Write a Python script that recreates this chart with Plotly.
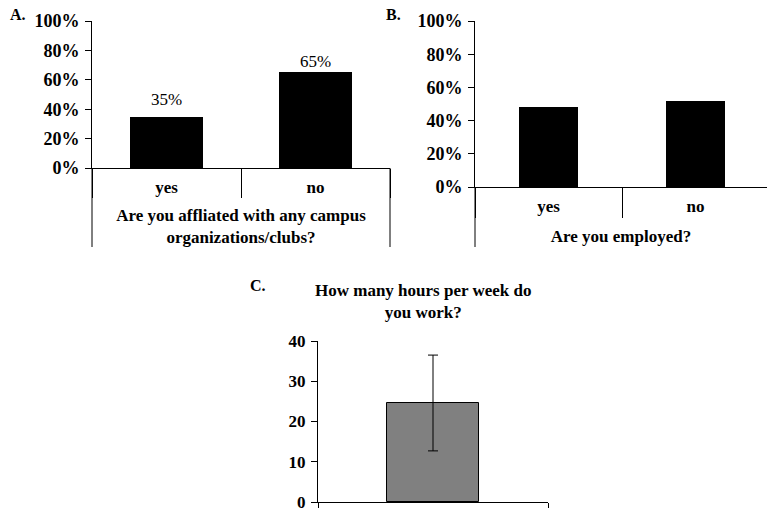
import plotly.graph_objects as go

# --- data -------------------------------------------------------------
answer_categories = ["yes", "no"]
clubs_pct = [35, 65]            # A. affiliated with campus organizations/clubs
clubs_label_shift = [17, 11]    # gap (px) between each bar top and its value label
employed_pct = [48, 52]         # B. employed
hours_category = ["hours"]
hours_mean = [24.6]             # C. hours worked per week
hours_sd = [11.9]

pct_ticks = [0, 20, 40, 60, 80, 100]
pct_ticktext = ["0%", "20%", "40%", "60%", "80%", "100%"]
hour_ticks = [0, 10, 20, 30, 40]

W, H = 767, 508
FONT = "Liberation Serif, Times New Roman, serif"
BOLD = dict(family=FONT, size=17, color="black", weight="bold")


def px_x(v):
    return v / W


def px_y(v):
    return 1 - v / H


fig = go.Figure()

fig.add_trace(go.Bar(x=answer_categories, y=clubs_pct, width=0.49,
                     marker=dict(color="black", line=dict(width=0)),
                     xaxis="x", yaxis="y", showlegend=False))
fig.add_trace(go.Bar(x=answer_categories, y=employed_pct, width=0.4,
                     marker=dict(color="black", line=dict(width=0)),
                     xaxis="x2", yaxis="y2", showlegend=False))
fig.add_trace(go.Bar(x=hours_category, y=hours_mean, width=0.4,
                     marker=dict(color="#808080", line=dict(color="black", width=1)),
                     error_y=dict(type="data", array=hours_sd, color="black",
                                  thickness=1, width=5),
                     xaxis="x3", yaxis="y3", showlegend=False))

y_common = dict(showline=True, linecolor="black", linewidth=1,
                ticks="outside", ticklen=6, tickcolor="black",
                showgrid=False, zeroline=False, tickfont=dict(BOLD, size=18),
                ticklabelstandoff=2, ticklabeloverflow="allow",
                automargin=False, fixedrange=True)
x_common = dict(type="category", showline=True, linecolor="black", linewidth=1,
                showgrid=False, zeroline=False, tickfont=BOLD,
                ticks="outside", tickson="boundaries", tickcolor="black",
                ticklabelstandoff=4, automargin=False, fixedrange=True)

fig.update_layout(
    width=W, height=H,
    margin=dict(l=0, r=0, t=0, b=0),
    paper_bgcolor="white", plot_bgcolor="white",
    bargap=0,
    xaxis=dict(x_common, domain=[px_x(92), px_x(390)], range=[-0.5, 1.5], anchor="y",
               ticklen=29,
               title=dict(text="Are you affliated with any campus<br>organizations/clubs?",
                          font=BOLD, standoff=12)),
    yaxis=dict(y_common, domain=[px_y(168), px_y(21)], range=[0, 100], anchor="x",
               tickvals=pct_ticks, ticktext=pct_ticktext),
    xaxis2=dict(x_common, domain=[px_x(475), 1], range=[-0.5, 1.486], anchor="y2",
                ticklen=30,
                title=dict(text="Are you employed?", font=BOLD, standoff=14)),
    yaxis2=dict(y_common, domain=[px_y(187), px_y(21)], range=[0, 100], anchor="x2",
                tickvals=pct_ticks, ticktext=pct_ticktext),
    xaxis3=dict(x_common, domain=[px_x(318), px_x(548)], range=[-0.5, 0.5], anchor="y3",
                ticklen=6, showticklabels=False),
    yaxis3=dict(y_common, domain=[px_y(502), px_y(341)], range=[0, 40], anchor="x3",
                tickvals=hour_ticks, tickfont=BOLD),
)

# value labels above the panel A bars
for cat, val, shift in zip(answer_categories, clubs_pct, clubs_label_shift):
    fig.add_annotation(x=cat, y=val, xref="x", yref="y", text=f"{val}%",
                       showarrow=False, yshift=shift, yanchor="middle",
                       font=dict(family=FONT, size=17, color="black"))

# panel letters and panel C heading
for txt, xp, yp in [("A.", 18, 15), ("B.", 393, 15), ("C.", 258, 285)]:
    fig.add_annotation(x=px_x(xp), y=px_y(yp), xref="paper", yref="paper",
                       xanchor="center", yanchor="middle",
                       text=txt, showarrow=False, font=dict(BOLD, size=16))
fig.add_annotation(x=px_x(423), y=px_y(301), xref="paper", yref="paper",
                   xanchor="center", yanchor="middle",
                   text="How many hours per week do<br>you work?", showarrow=False,
                   font=BOLD)

# the category-label area of A and B is framed by vertical rules
line = dict(color="black", width=1)
for xr, x0, ytop in [("x domain", 0, 168), ("x domain", 1, 168), ("x2 domain", 0, 187)]:
    fig.add_shape(type="line", xref=xr, yref="paper", x0=x0, x1=x0,
                  y0=px_y(ytop), y1=px_y(247), line=line)

fig.write_html("out.html")
